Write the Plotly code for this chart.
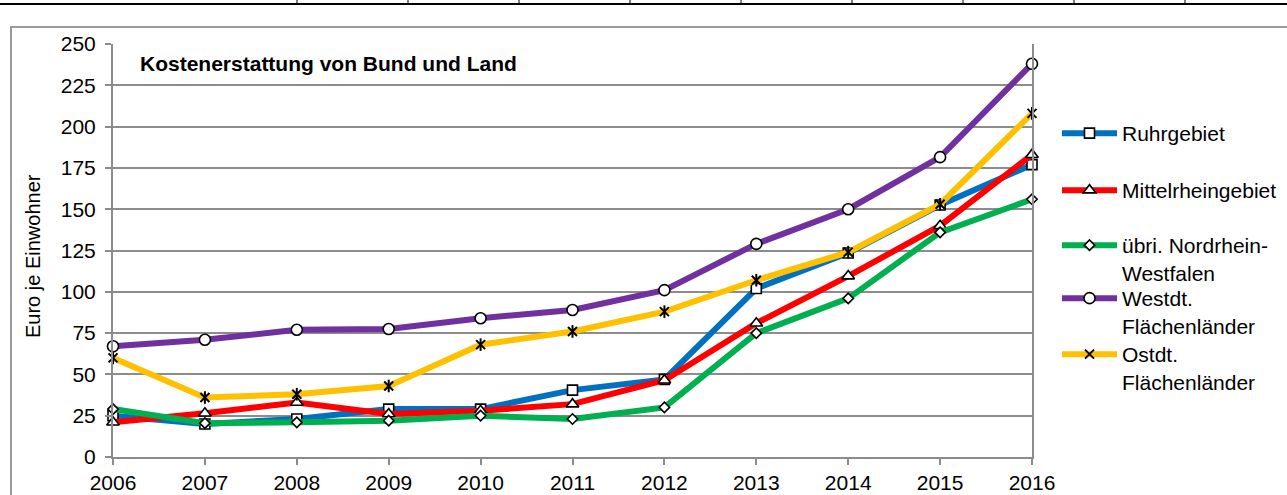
import plotly.graph_objects as go

years = [2006, 2007, 2008, 2009, 2010, 2011, 2012, 2013, 2014, 2015, 2016]

ruhrgebiet = [25, 20, 23, 29, 29, 40.5, 47, 102, 123.5, 152.5, 177]
mittelrhein = [21, 26.5, 33, 26, 28, 32, 46.5, 81, 109.5, 140, 183]
uebri_nrw = [29, 20.5, 21, 22, 25, 23, 30, 75, 96, 136, 156]
westdt = [67, 71, 77, 77.5, 84, 89, 101, 129, 150, 181.5, 238]
ostdt = [60, 36, 38, 43, 68, 76, 88, 107, 124, 153, 208]

series_names = [
    "Ruhrgebiet",
    "Mittelrheingebiet",
    "übri. Nordrhein-<br>Westfalen",
    "Westdt.<br>Flächenländer",
    "Ostdt.<br>Flächenländer",
]
series_values = [ruhrgebiet, mittelrhein, uebri_nrw, westdt, ostdt]
series_colors = ["#0070C0", "#FF0000", "#00B050", "#7030A0", "#FFC000"]
series_symbols = ["square", "triangle-up", "diamond", "circle", "x-thin-open"]
series_sizes = [10, 11, 8, 11, 9]

FONT = "Arial, Liberation Sans, sans-serif"
GRID = "#8c8c8c"

# plot-area geometry in pixels (used for converting decorations to paper coords)
W, H = 1287, 495
L, R, T, B = 113, 255, 44, 38
PW, PH = W - L - R, H - T - B


def px_x(px):
    return (px - L) / PW


def px_y(py):
    return (H - B - py) / PH


# top edge of each legend box (first text line sits about 20 px lower)
legend_tops = [113, 170, 225, 278, 334]
legend_ids = ["legend", "legend2", "legend3", "legend4", "legend5"]

fig = go.Figure()
for name, vals, col, sym, sz, lid in zip(series_names, series_values, series_colors,
                                         series_symbols, series_sizes, legend_ids):
    star = sym == "x-thin-open"
    fig.add_trace(go.Scatter(
        x=years, y=vals, name=name, mode="lines+markers",
        line=dict(color=col, width=6),
        marker=dict(symbol=sym, size=sz, color="black" if star else "white",
                    line=dict(color="black", width=2 if star else 1.6)),
        cliponaxis=False, legend=lid,
    ))
    if star:
        # vertical stroke completing the star marker
        fig.add_trace(go.Scatter(
            x=years, y=vals, mode="markers", showlegend=False, hoverinfo="skip",
            marker=dict(symbol="line-ns-open", size=sz, color="black",
                        line=dict(color="black", width=2)),
            cliponaxis=False,
        ))

layout_legends = {}
for lid, top in zip(legend_ids, legend_tops):
    layout_legends[lid] = dict(
        xref="container", yref="container",
        x=1057 / W, y=1 - top / H, xanchor="left", yanchor="top",
        valign="top", itemwidth=55, bgcolor="rgba(0,0,0,0)",
        font=dict(family=FONT, size=21, color="black"),
        tracegroupgap=0,
    )

shapes = [
    # outer chart frame
    dict(type="rect", xref="paper", yref="paper",
         x0=px_x(11), x1=px_x(1300), y0=px_y(27), y1=px_y(520),
         line=dict(color="#9a9a9a", width=2), fillcolor="rgba(0,0,0,0)"),
    # table row border above the chart
    dict(type="line", xref="paper", yref="paper",
         x0=px_x(0), x1=px_x(1287), y0=px_y(4), y1=px_y(4),
         line=dict(color="black", width=2)),
]
for cx in [297, 408, 519, 630, 741, 852, 963, 1074, 1185]:
    shapes.append(dict(type="line", xref="paper", yref="paper",
                       x0=px_x(cx), x1=px_x(cx), y0=px_y(-2), y1=px_y(5),
                       line=dict(color="black", width=1)))

fig.update_layout(
    width=W, height=H, autosize=False,
    margin=dict(l=L, r=R, t=T, b=B, pad=0, autoexpand=False),
    paper_bgcolor="white", plot_bgcolor="white",
    font=dict(family=FONT, size=21, color="black"),
    xaxis=dict(range=[2006, 2016], tickvals=years, ticks="outside", ticklen=6,
               tickwidth=2, tickcolor=GRID, showgrid=False, showline=True,
               linecolor=GRID, linewidth=2, zeroline=False, automargin=False,
               tickfont=dict(size=21)),
    yaxis=dict(range=[0, 250], dtick=25, ticks="outside", ticklen=6, tickwidth=2,
               tickcolor=GRID, showgrid=True, gridcolor=GRID, gridwidth=2,
               showline=True, linecolor=GRID, linewidth=2, mirror=True,
               zeroline=False, automargin=False, ticklabelstandoff=5,
               tickfont=dict(size=21)),
    shapes=shapes,
    annotations=[
        dict(text="<b>Kostenerstattung von Bund und Land</b>", xref="paper", yref="paper",
             x=px_x(138), y=px_y(64), xanchor="left", yanchor="middle",
             showarrow=False, font=dict(size=21)),
        dict(text="Euro je Einwohner", xref="paper", yref="paper",
             x=px_x(33), y=px_y(256), xanchor="center", yanchor="middle",
             textangle=-90, showarrow=False, font=dict(size=20)),
    ],
    **layout_legends,
)

fig.write_html("out.html")
